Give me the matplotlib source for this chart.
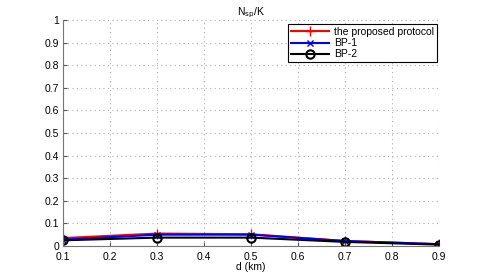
import matplotlib.pyplot as plt
import numpy as np

plt.rcParams['font.family'] = ['Liberation Sans', 'DejaVu Sans']

# distances and N_sp/K values
d_km = [0.1, 0.3, 0.5, 0.7, 0.9]
proposed = [0.035, 0.055, 0.052, 0.022, 0.008]
bp1 = [0.028, 0.050, 0.050, 0.022, 0.008]
bp2 = [0.025, 0.037, 0.037, 0.018, 0.006]

fig = plt.figure(figsize=(4.85, 2.77), dpi=100)
ax = fig.add_axes([0.13, 0.112, 0.775, 0.816])

ax.plot(d_km, proposed, color='red', marker='+', markersize=7, lw=1.5, label='the proposed protocol')
ax.plot(d_km, bp1, color='blue', marker='x', markersize=5, lw=1.5, label='BP-1')
ax.plot(d_km, bp2, color='black', marker='o', markersize=6, markerfacecolor='none',
        markeredgewidth=1.5, lw=1.5, label='BP-2')

ax.set_xlim(0.1, 0.9)
ax.set_ylim(0, 1)
ax.set_xticks(np.arange(0.1, 0.95, 0.1))
ax.set_yticks(np.arange(0, 1.05, 0.1))
ax.set_xticklabels(['0.1', '0.2', '0.3', '0.4', '0.5', '0.6', '0.7', '0.8', '0.9'])
ax.set_yticklabels(['0', '0.1', '0.2', '0.3', '0.4', '0.5', '0.6', '0.7', '0.8', '0.9', '1'])
ax.tick_params(labelsize=7.5, direction='in', length=3, color='#555555')
ax.tick_params(axis='y', pad=3)
ax.tick_params(axis='x', pad=4)
ax.grid(True, linestyle=(0, (1, 3)), color='#b0b0b0', lw=0.8)
ax.spines['top'].set_visible(False)
ax.spines['right'].set_visible(False)
ax.spines['left'].set_color('#777777')
ax.spines['bottom'].set_color('#777777')

ax.set_title('N$_{\\rm sp}$/K', fontsize=7.5, pad=3)
ax.set_xlabel('d (km)', fontsize=7.5, labelpad=0)

leg = ax.legend(loc='upper right', fontsize=7.5, fancybox=False, framealpha=1,
                edgecolor='black', borderpad=0.3, labelspacing=0.1, handlelength=3.6,
                handletextpad=0.5, borderaxespad=0, bbox_to_anchor=(0.995, 0.982))
leg.get_frame().set_linewidth(0.8)

fig.savefig('out.png', dpi=100)
